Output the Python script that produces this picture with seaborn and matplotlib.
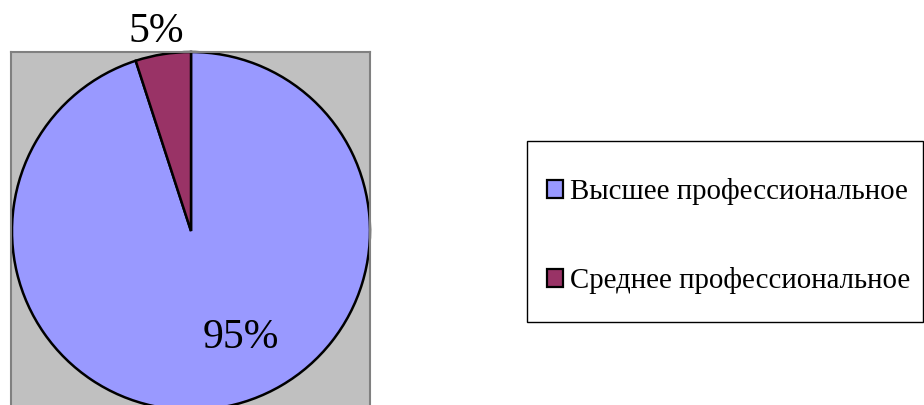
import numpy as np
import seaborn as sns
import matplotlib.pyplot as plt
from matplotlib.patches import Rectangle

categories = ['Высшее профессиональное', 'Среднее профессиональное']
shares = [95, 5]
pct_labels = ['95%', '5%']
colors = ['#9999FF', '#993366']

sns.set_theme(style='white')
plt.rcParams['font.family'] = ['Liberation Serif', 'DejaVu Serif']

W, H = 924, 405
fig = plt.figure(figsize=(W / 100, H / 100), dpi=100)

# plot area in pixels: left 11, top 52, right 370, runs off the bottom
left, top, right, bottom = 11, 52, 370, 412
cx, cy, r = 191, 231, 179
ax = fig.add_axes([left / W, 1 - bottom / H, (right - left) / W, (bottom - top) / H])

palette = sns.color_palette(colors)
wedges, _ = ax.pie(shares, colors=palette, startangle=90, counterclock=False,
                   frame=True, wedgeprops=dict(edgecolor='black', linewidth=1.8))
ax.set_facecolor('#C0C0C0')
ax.set_xlim(-(cx - left) / r, (right - cx) / r)
ax.set_ylim(-(bottom - cy) / r, (cy - top) / r)
ax.set_aspect('auto')
ax.set_xticks([])
ax.set_yticks([])
for s in ax.spines.values():
    s.set_color('#808080')
    s.set_linewidth(1.5)
    s.set_visible(True)

# label placement (angle in degrees, distance from centre in radii)
label_pos = [(-65, 0.66), (100, 1.13)]
for txt, (ang, dist) in zip(pct_labels, label_pos):
    a = np.deg2rad(ang)
    ax.text(dist * np.cos(a), dist * np.sin(a), txt, ha='center', va='center',
            fontsize=30, color='black', clip_on=False)

# legend box
fig.patches.append(Rectangle((527 / W, 1 - 322 / H), 396 / W, 181 / H,
                             transform=fig.transFigure, facecolor='white',
                             edgecolor='black', linewidth=1.0))
leg = fig.legend(wedges, categories, loc='center left',
                 bbox_to_anchor=(547 / W, 1 - 236 / H), borderaxespad=0,
                 fontsize=20.8, frameon=False, labelcolor='black',
                 handlelength=0.56, handleheight=0.56, handletextpad=0.25,
                 labelspacing=2.15, borderpad=0)
for h in leg.legend_handles:
    h.set_linewidth(1.6)

fig.savefig('out.png', dpi=100)
